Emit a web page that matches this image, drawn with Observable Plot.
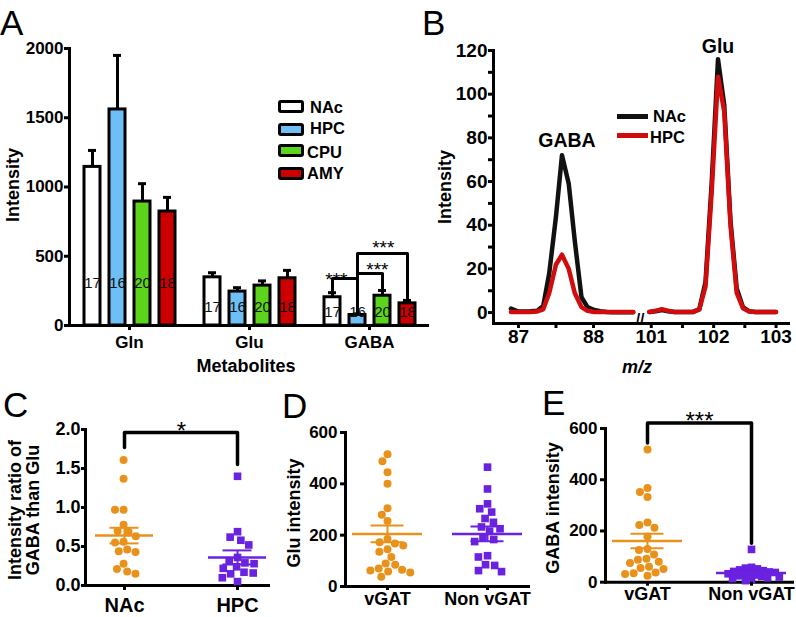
<!DOCTYPE html>
<html>
<head>
<meta charset="utf-8">
<script src="https://cdn.jsdelivr.net/npm/d3@7"></script>
<script src="https://cdn.jsdelivr.net/npm/@observablehq/plot@0.6"></script>
<style>
  body { margin: 0; background: #fff; }
  #fig { position: relative; width: 796px; height: 617px; overflow: hidden; background: #fff;
         font-family: "Liberation Sans", Arial, Helvetica, sans-serif; color: #000; }
  #fig svg { position: absolute; }
  .legbox { position: absolute; width: 20px; height: 7px; border: 3px solid #000; border-radius: 3px; }
  .legline { position: absolute; width: 31px; height: 5px; }
</style>
</head>
<body>
<div id="fig"></div>
<script>
const FONT = '"Liberation Sans", Arial, Helvetica, sans-serif';

// ---------------- Panel A data ----------------
const metabolites = ["Gln", "Glu", "GABA"];
const regions = ["NAc", "HPC", "CPU", "AMY"];
const regionColors = ["#ffffff", "#6ebff5", "#5cd41c", "#cc0000"];
const regionN = [17, 16, 20, 18];
const meanNAc = [1145, 348, 204], semNAc = [119, 33, 33];
const meanHPC = [1560, 245, 76], semHPC = [390, 28, 8];
const meanCPU = [895, 288, 215], semCPU = [129, 34, 38];
const meanAMY = [823, 341, 160], semAMY = [102, 57, 21];
const yTicksA = [0, 500, 1000, 1500, 2000];
// significance brackets in the GABA group (levels in intensity units)
const sigFromA = ["NAc", "HPC", "HPC"];
const sigToA = ["HPC", "CPU", "AMY"];
const sigFromTopA = [253, 87, 87];
const sigLevelA = [339, 375, 520];
const sigToTopA = [87, 258, 186];
const sigLabelA = ["***", "***", "***"];

// ---------------- Panel B data ----------------
const seriesB = ["NAc", "HPC"];
const seriesColorsB = ["#111111", "#d00c0c"];
const gabaMz = [86.90, 86.99, 87.08, 87.16, 87.25, 87.33, 87.41, 87.50, 87.58, 87.67, 87.75, 87.84, 87.92, 88.01, 88.09, 88.18, 88.26, 88.35, 88.43, 88.53];
const gabaNAc = [1.8, 0.6, 0.5, 0.6, 0.8, 3, 18, 44, 72, 59, 33, 7, 2.5, 1.2, 0.6, 0.3, 0.2, 0.2, 0.2, 0.2];
const gabaHPC = [0.3, 0.3, 0.3, 0.3, 0.5, 1.5, 9, 22, 26.5, 20, 9, 2.5, 0.8, 0.3, 0.3, 0.3, 0.3, 0.3, 0.3, 0.3];
const gluMz = [100.97, 101.07, 101.17, 101.27, 101.37, 101.47, 101.57, 101.67, 101.77, 101.87, 101.97, 102.07, 102.17, 102.27, 102.37, 102.47, 102.57, 102.67, 102.77, 102.87, 103.00];
const gluNAc = [0.3, 0.6, 1.2, 0.6, 0.3, 0.3, 0.3, 0.3, 1.5, 14, 60, 116, 95, 42, 11, 2.5, 0.6, 0.3, 0.3, 0.3, 0.3];
const gluHPC = [0.3, 0.8, 1.6, 0.8, 0.3, 0.3, 0.3, 0.3, 1.5, 12, 56, 108, 92, 40, 9, 2, 0.5, 0.3, 0.3, 0.3, 0.3];
const xTicksB = [87, 87.5, 88, 101, 101.5, 102, 102.5, 103];
const yTicksB = [0, 10, 20, 30, 40, 50, 60, 70, 80, 90, 100, 110, 120];
const axisBreakB = [88.6, 100.85];

// ---------------- Panel C data ----------------
const catsC = ["NAc", "HPC"];
const ratioNAc = [1.61, 1.37, 0.97, 0.97, 0.78, 0.70, 0.69, 0.63, 0.56, 0.55, 0.46, 0.44, 0.43, 0.28, 0.21, 0.18, 0.15];
const ratioHPC = [1.40, 0.69, 0.62, 0.58, 0.52, 0.36, 0.31, 0.29, 0.28, 0.24, 0.22, 0.17, 0.16, 0.15, 0.10, 0.05];
const ratioMean = [0.64, 0.36], ratioSem = [0.10, 0.09];
const yTicksC = [0, 0.5, 1.0, 1.5, 2.0];

// ---------------- Panel D data ----------------
const catsD = ["vGAT", "Non vGAT"];
const gluVGAT = [515, 488, 445, 400, 305, 280, 255, 185, 172, 168, 160, 145, 135, 115, 90, 85, 70, 65, 62, 58, 55, 38];
const gluNonVGAT = [465, 380, 322, 303, 290, 265, 250, 232, 225, 215, 190, 183, 175, 120, 115, 85, 82, 62, 58];
const gluMean = [205, 205], gluSem = [33, 29];
const yTicksD = [0, 200, 400, 600];

// ---------------- Panel E data ----------------
const catsE = ["vGAT", "Non vGAT"];
const gabaVGAT = [518, 368, 352, 333, 233, 223, 213, 178, 130, 126, 108, 92, 88, 80, 75, 60, 55, 52, 38, 35, 32, 25];
const gabaNonVGAT = [128, 58, 55, 52, 48, 45, 42, 40, 38, 35, 33, 30, 28, 25, 22, 20, 17, 14, 10, 6];
const gabaMean = [161, 36], gabaSem = [28, 5];
const yTicksE = [0, 200, 400, 600];

const groupColors = ["#e8921c", "#6a22e0"];
const groupSymbols = ["circle", "square"];

// ---------------- helpers ----------------
const fig = document.getElementById("fig");
function place(svg, left, top) {
  svg.style.left = left + "px";
  svg.style.top = top + "px";
  fig.appendChild(svg);
}
function addText(txt, cx, cy, size, opts = {}) {
  const d = document.createElement("div");
  d.textContent = txt;
  d.style.cssText = `position:absolute;left:${cx}px;top:${cy}px;font-size:${size}px;line-height:1;` +
    `font-weight:${opts.weight || "bold"};font-style:${opts.italic ? "italic" : "normal"};white-space:nowrap;` +
    `transform:translate(-50%,-50%)${opts.rotate ? " rotate(-90deg)" : ""};`;
  fig.appendChild(d);
}
function addLeft(txt, x, cy, size, weight = "bold") {
  const d = document.createElement("div");
  d.textContent = txt;
  d.style.cssText = `position:absolute;left:${x}px;top:${cy}px;font-size:${size}px;line-height:1;font-weight:${weight};white-space:nowrap;transform:translateY(-50%);`;
  fig.appendChild(d);
}
function addLetter(txt, x, y) {
  const d = document.createElement("div");
  d.textContent = txt;
  d.style.cssText = `position:absolute;left:${x}px;top:${y}px;font-size:35px;line-height:1;font-weight:normal;`;
  fig.appendChild(d);
}
const baseStyle = (size) => ({background: "none", fontFamily: FONT, fontSize: size + "px", fontWeight: "bold", color: "black", overflow: "visible"});

// ---------------- Panel A ----------------
{
  const W = 432, H = 378, ml = 68, mr = 2, mt = 48, mb = 53;
  const means = [meanNAc, meanHPC, meanCPU, meanAMY];
  const sems = [semNAc, semHPC, semCPU, semAMY];
  const bars = [];
  metabolites.forEach((m, i) => regions.forEach((r, j) => bars.push({
    metabolite: m, region: r, value: means[j][i], top: means[j][i] + sems[j][i], n: String(regionN[j])
  })));
  const xBand = {domain: regions, paddingInner: 0.38, paddingOuter: 0.53};
  const facetW = (W - ml - mr) / metabolites.length;
  const sx = Plot.scale({x: {type: "band", ...xBand, range: [0, facetW]}});
  const half = (a, b) => (sx.apply(b) - sx.apply(a)) / 2;
  const sig = sigFromA.map((f, i) => ({metabolite: "GABA", id: i, from: f, to: sigToA[i],
    fromTop: sigFromTopA[i], level: sigLevelA[i], toTop: sigToTopA[i], label: sigLabelA[i]}));
  const starShift = [-9, 7, 0], starRaise = [7, 2.6, 0.8];
  const bracketPts = sig.flatMap(b => [
    {metabolite: b.metabolite, id: b.id, x: b.from, y: b.fromTop},
    {metabolite: b.metabolite, id: b.id, x: b.from, y: b.level},
    {metabolite: b.metabolite, id: b.id, x: b.to, y: b.level},
    {metabolite: b.metabolite, id: b.id, x: b.to, y: b.toTop}
  ]);
  const baseline = metabolites.map(m => ({metabolite: m, y: 0}));
  const nDy = {Gln: -38, Glu: -14, GABA: -9};
  const svg = Plot.plot({
    width: W, height: H, marginLeft: ml, marginRight: mr, marginTop: mt, marginBottom: mb,
    style: baseStyle(17),
    fx: {domain: metabolites, padding: 0, label: null},
    x: {type: "band", ...xBand, axis: null},
    y: {domain: [0, 2000], axis: null},
    color: {domain: regions, range: regionColors},
    marks: [
      Plot.ruleY(baseline, {fx: "metabolite", y: "y", strokeWidth: 3}),
      Plot.frame({anchor: "left", facetAnchor: "left", strokeWidth: 3}),
      Plot.barY(bars, {fx: "metabolite", x: "region", y: "value", fill: "region", stroke: "black", strokeWidth: 3}),
      Plot.ruleX(bars, {fx: "metabolite", x: "region", y1: "value", y2: "top", stroke: "black", strokeWidth: 3}),
      Plot.tickY(bars, {fx: "metabolite", x: "region", y: "top", stroke: "black", strokeWidth: 3, insetLeft: 4, insetRight: 4}),
      ...metabolites.map(m => Plot.text(bars.filter(d => d.metabolite === m), {
        fx: "metabolite", x: "region", text: "n", frameAnchor: "bottom", dy: nDy[m],
        fontSize: 15, fontWeight: "normal", fill: "#111"
      })),
      Plot.line(bracketPts, {fx: "metabolite", x: "x", y: "y", z: "id", stroke: "black", strokeWidth: 3}),
      ...sig.map((b, i) => Plot.text([b], {
        fx: "metabolite", x: "from", y: "level", text: "label", dx: half(b.from, b.to) + starShift[i],
        dy: starRaise[i], lineAnchor: "bottom", fontSize: 19, fontWeight: "normal"
      })),
      Plot.axisY({ticks: yTicksA, tickFormat: d => String(d), tickSize: 5, tickPadding: 1, strokeWidth: 3, label: null, fontSize: 17}),
      Plot.axisFx({anchor: "bottom", tickSize: 5, tickPadding: 5, label: null, strokeWidth: 3, fontSize: 17})
    ]
  });
  place(svg, 0, 0);
  addLetter("A", 0, 5);
  addText("Intensity", 13, 185, 18, {rotate: true});
  addText("Metabolites", 246, 366, 18);
  const boxTops = [100, 123, 144, 167], labX = [310, 310, 307, 307], labY = [107, 128, 152, 173];
  regions.forEach((r, i) => {
    const b = document.createElement("div");
    b.className = "legbox";
    b.style.left = "278px"; b.style.top = boxTops[i] + "px"; b.style.background = regionColors[i];
    fig.appendChild(b);
    addLeft(r, labX[i], labY[i], 16.5);
  });
}

// ---------------- Panel B ----------------
{
  const W = 386, H = 378, ml = 83, mr = 8, mt = 50, mb = 55;
  const rows = [];
  const segs = [
    {seg: "GABA", mz: gabaMz, vals: [gabaNAc, gabaHPC]},
    {seg: "Glu", mz: gluMz, vals: [gluNAc, gluHPC]}
  ];
  seriesB.forEach((s, si) => segs.forEach(g => g.mz.forEach((m, k) => rows.push({series: s, seg: g.seg, mz: m, value: g.vals[si][k]}))));
  const gi = d3.maxIndex(gabaNAc), ui = d3.maxIndex(gluNAc);
  const peakLabels = [
    {name: "GABA", mz: gabaMz[gi], value: gabaNAc[gi], dx: 5, dy: -15},
    {name: "Glu", mz: gluMz[ui], value: gluNAc[ui], dx: 0, dy: -12}
  ];
  const svg = Plot.plot({
    width: W, height: H, marginLeft: ml, marginRight: mr, marginTop: mt, marginBottom: mb,
    style: baseStyle(19),
    x: {type: "linear", domain: [86.667, axisBreakB[0], axisBreakB[1], 103.2], range: [ml, 228, 231.4, W - mr]},
    y: {domain: [-5, 120]},
    color: {domain: seriesB, range: seriesColorsB},
    marks: [
      Plot.frame({anchor: "left", strokeWidth: 3}),
      Plot.frame({anchor: "bottom", strokeWidth: 3}),
      Plot.line(rows, {x: "mz", y: "value", z: d => d.series + d.seg, stroke: "series", strokeWidth: 4.5, strokeLinejoin: "round"}),
      ...peakLabels.map(p => Plot.text([p], {x: "mz", y: "value", text: "name", dx: p.dx, dy: p.dy, fontSize: 19.5, fontWeight: "bold"})),
      Plot.text(["//"], {x: () => (axisBreakB[0] + axisBreakB[1]) / 2, frameAnchor: "bottom", text: d => d, fontSize: 15, fontWeight: "bold"}),
      Plot.axisY({ticks: yTicksB, tickFormat: d => (d % 20 === 0 ? String(d) : ""), tickSize: 5, tickPadding: 1, strokeWidth: 3, label: null, fontSize: 19}),
      Plot.axisX({ticks: xTicksB, tickFormat: d => (Number.isInteger(d) ? String(d) : ""), tickSize: 5, tickPadding: 1, strokeWidth: 3, label: null, fontSize: 19})
    ]
  });
  place(svg, 410, 0);
  addLetter("B", 422, 5);
  addText("Intensity", 445, 187, 18, {rotate: true});
  addText("m/z", 637, 367, 18, {italic: true});
  const lineTops = [114, 132.5], labX = [653, 650], labY = [116, 137];
  seriesB.forEach((s, i) => {
    const l = document.createElement("div");
    l.className = "legline";
    l.style.left = "617px"; l.style.top = lineTops[i] + "px"; l.style.background = seriesColorsB[i];
    fig.appendChild(l);
    addLeft(s, labX[i], labY[i], 16.5);
  });
}

// ---------------- Scatter panels C, D, E ----------------
function scatterPanel(c) {
  const xBand = {type: "band", domain: c.cats, paddingInner: c.paddingInner, paddingOuter: c.paddingOuter, align: c.align,
                 range: [c.ml, c.W - c.mr]};
  const sx = Plot.scale({x: xBand});
  const center = k => sx.apply(k) + sx.bandwidth / 2;
  const frameMid = (c.ml + c.W - c.mr) / 2;
  const marks = [
    Plot.frame({anchor: "left", strokeWidth: 3}),
    Plot.frame({anchor: "bottom", strokeWidth: 3})
  ];
  if (c.bracket) {
    const b = c.bracket;
    const pts = [{x: b.from, y: b.fromTop}, {x: b.from, y: b.level}, {x: b.to, y: b.level}, {x: b.to, y: b.toTop}];
    marks.push(Plot.line(pts, {x: "x", y: "y", stroke: "black", strokeWidth: 3.5}));
    marks.push(Plot.text([b], {x: "from", y: "level", text: "label", dx: (center(b.to) - center(b.from)) / 2,
      dy: 6, lineAnchor: "bottom", fontSize: 24, fontWeight: "normal"}));
  }
  // the band offset (bandwidth / 2) is added by Plot itself because the plot has a band x scale
  c.cats.forEach((k, i) => {
    marks.push(Plot.dot(c.series[i], Plot.dodgeX({anchor: "middle", padding: c.dodgePad[i]},
      {y: d => d, r: c.r[i], fill: groupColors[i], symbol: groupSymbols[i], dx: sx.apply(k) - frameMid})));
  });
  c.cats.forEach((k, i) => {
    const st = [{cat: k, mean: c.means[i], lo: c.means[i] - c.sems[i], hi: c.means[i] + c.sems[i]}];
    marks.push(Plot.ruleX(st, {x: "cat", y1: "lo", y2: "hi", stroke: groupColors[i], strokeWidth: 2}));
    marks.push(Plot.tickY(st, {x: "cat", y: "lo", stroke: groupColors[i], strokeWidth: 2, insetLeft: c.capInset, insetRight: c.capInset}));
    marks.push(Plot.tickY(st, {x: "cat", y: "hi", stroke: groupColors[i], strokeWidth: 2, insetLeft: c.capInset, insetRight: c.capInset}));
    marks.push(Plot.tickY(st, {x: "cat", y: "mean", stroke: groupColors[i], strokeWidth: 2.5}));
  });
  marks.push(Plot.axisY({ticks: c.yTicks, tickFormat: c.yFormat, tickSize: c.yTickSize, tickPadding: c.yTickPad,
    strokeWidth: 3, label: null, fontSize: c.fontY}));
  marks.push(Plot.axisX({tickSize: c.xTickSize, tickPadding: c.xTickPad, strokeWidth: 3, label: null, fontSize: c.fontX}));
  const svg = Plot.plot({
    width: c.W, height: c.H, marginLeft: c.ml, marginRight: c.mr, marginTop: c.mt, marginBottom: c.mb,
    style: baseStyle(c.fontY),
    x: {...xBand},
    y: {domain: c.yDomain},
    marks
  });
  place(svg, c.left, c.top);
}

scatterPanel({
  left: 0, top: 380, W: 270, H: 237, ml: 85, mr: 2, mt: 49, mb: 32,
  cats: catsC, series: [ratioNAc, ratioHPC], means: ratioMean, sems: ratioSem,
  paddingInner: 0.49, paddingOuter: 0.048, align: 0.83, capInset: 14.5, r: [4, 4.3], dodgePad: [0.6, 0.6],
  yDomain: [0, 2], yTicks: yTicksC, yFormat: d3.format(".1f"), yTickSize: 4, yTickPad: 1,
  xTickSize: 5, xTickPad: 7, fontY: 18, fontX: 20,
  bracket: {from: "NAc", to: "HPC", fromTop: 1.77, level: 1.96, toTop: 1.55, label: "*"}
});
addLetter("C", 3, 387);
addText("Intensity ratio of", 15, 510, 18, {rotate: true});
addText("GABA than Glu", 33, 510, 18, {rotate: true});

scatterPanel({
  left: 265, top: 380, W: 270, H: 237, ml: 80, mr: 7, mt: 52, mb: 31,
  cats: catsD, series: [gluVGAT, gluNonVGAT], means: gluMean, sems: gluSem,
  paddingInner: 0.3, paddingOuter: 0.065, align: 0.54, capInset: 18.5, r: [4, 4.3], dodgePad: [0.6, 0.6],
  yDomain: [0, 600], yTicks: yTicksD, yFormat: d => String(d), yTickSize: 5, yTickPad: 3,
  xTickSize: 4, xTickPad: 2, fontY: 17, fontX: 18,
  bracket: null
});
addLetter("D", 282, 388);
addText("Glu intensity", 294, 513, 18, {rotate: true});

scatterPanel({
  left: 525, top: 380, W: 271, H: 237, ml: 80, mr: 4, mt: 48, mb: 35.3,
  cats: catsE, series: [gabaVGAT, gabaNonVGAT], means: gabaMean, sems: gabaSem,
  paddingInner: 0.327, paddingOuter: 0.0625, align: 0.54, capInset: 18.5, r: [4, 4.3], dodgePad: [0.6, -2.5],
  yDomain: [0, 600], yTicks: yTicksE, yFormat: d => String(d), yTickSize: 5, yTickPad: 3,
  xTickSize: 4, xTickPad: 1, fontY: 17, fontX: 18,
  bracket: {from: "vGAT", to: "Non vGAT", fromTop: 543, level: 621, toTop: 152, label: "***"}
});
addLetter("E", 542, 385);
addText("GABA intensity", 553, 508, 18, {rotate: true});
</script>
</body>
</html>
